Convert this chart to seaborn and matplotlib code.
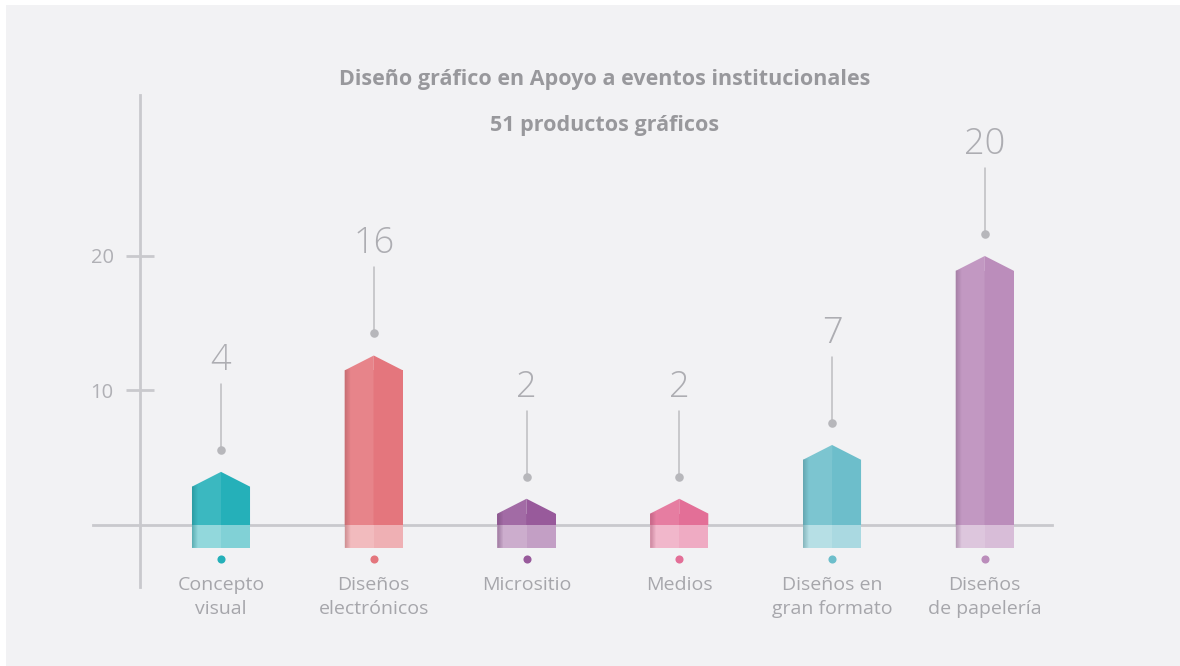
import numpy as np
import pandas as pd
import matplotlib
matplotlib.use("Agg")
import matplotlib.pyplot as plt
import matplotlib.colors as mcolors
import seaborn as sns

# chart data
categories = ["Concepto\nvisual", "Diseños\nelectrónicos", "Micrositio", "Medios",
              "Diseños en\ngran formato", "Diseños\nde papelería"]
counts = [4, 16, 2, 2, 7, 20]
bar_tops = [3.95, 12.6, 1.95, 1.95, 5.95, 20.0]   # peak heights as drawn in the picture
colors = ["#25b0b9", "#e4767d", "#985a9b", "#e36f97", "#6dbecb", "#bb8dbb"]
yticks = [10, 20]

title = "Diseño gráfico en Apoyo a eventos institucionales"
subtitle = "51 productos gráficos"

sns.set_theme(style="white")
plt.rcParams["font.family"] = ["Open Sans", "DejaVu Sans"]

BG = "#f2f2f4"
AXIS = "#c9c9cd"
TEXT = "#a6a6ab"

ROOF = 1.1      # drop from peak to shoulder
BASE = -1.7     # bars hang below the baseline
WIDTH = 0.38


def tint(c, f):
    r, g, b = mcolors.to_rgb(c)
    return (r + (1 - r) * f, g + (1 - g) * f, b + (1 - b) * f)


def shade(c, f):
    r, g, b = mcolors.to_rgb(c)
    return (r * (1 - f), g * (1 - f), b * (1 - f))


fig = plt.figure(figsize=(11.8, 6.66), dpi=100)
fig.patch.set_facecolor("white")
bg = plt.Rectangle((6 / 1180, 0), 1, 1 - 5 / 666, transform=fig.transFigure,
                   facecolor=BG, edgecolor="none", zorder=-10)
fig.patches.append(bg)

ax = fig.add_axes([93 / 1180, 1 - 587 / 666, (1052 - 93) / 1180, (587 - 95) / 666])
ax.set_facecolor("none")

df = pd.DataFrame({"cat": categories, "count": counts, "top": bar_tops})
df["body"] = df["top"] - ROOF
df["base"] = BASE

# main bodies (from zero to shoulder) and the lighter part under the baseline
sns.barplot(data=df, x="cat", y="body", hue="cat", palette=colors, width=WIDTH,
            legend=False, ax=ax, zorder=3, saturation=1, linewidth=0)
sns.barplot(data=df, x="cat", y="base", hue="cat", palette=[tint(c, 0.42) for c in colors],
            width=WIDTH, legend=False, ax=ax, zorder=3, saturation=1, linewidth=0)

half = WIDTH / 2
for i, (top, c) in enumerate(zip(bar_tops, colors)):
    sh = top - ROOF
    # two halves of the house shape, left one a bit lighter
    ax.fill([i - half, i, i, i - half], [sh, top, 0, 0], color=tint(c, 0.1), zorder=4, lw=0)
    ax.fill([i, i + half, i + half, i], [top, sh, 0, 0], color=c, zorder=4, lw=0)
    ax.fill([i - half, i, i, i - half], [0, 0, BASE, BASE], color=tint(c, 0.5), zorder=4, lw=0)
    ax.fill([i, i + half, i + half, i], [0, 0, BASE, BASE], color=tint(c, 0.42), zorder=4, lw=0)
    # darker left edge
    for k in range(6):
        x0 = i - half + k * 0.006
        ax.fill([x0, x0 + 0.006, x0 + 0.006, x0], [sh, sh + 0.035 * (k + 1), BASE, BASE],
                color=shade(c, 0.3), alpha=0.45 * (1 - k / 6), zorder=5, lw=0)
    # stem with dot and value label
    dot = top + 1.65
    ax.plot([i, i], [dot, dot + 4.9], color="#bdbdc1", lw=1.1, zorder=3)
    ax.scatter([i], [dot], s=38, color="#b7b7bb", zorder=4, lw=0)
    ax.text(i, dot + 4.9 + 1.05, str(counts[i]), ha="center", va="baseline",
            fontsize=26, color="#adadb2", fontweight="light")
    # colored dot and category name
    ax.scatter([i], [BASE - 0.83], s=34, color=c, zorder=4, lw=0)
    ax.text(i, -3.82, categories[i], ha="center", va="top", fontsize=14,
            color=TEXT, linespacing=1.42)

ax.set_xlim(-0.838, 5.44)
ax.set_ylim(-4.61, 31.97)

for s in ["top", "right"]:
    ax.spines[s].set_visible(False)
ax.spines["left"].set_position(("data", -0.53))
ax.spines["bottom"].set_position(("data", 0))
for s in ["left", "bottom"]:
    ax.spines[s].set_color(AXIS)
    ax.spines[s].set_linewidth(2)
    ax.spines[s].set_zorder(2)

ax.set_xticks([])
ax.set_yticks(yticks)
ax.set_yticklabels([str(t) for t in yticks])
ax.tick_params(axis="y", direction="inout", length=20, width=2, color=AXIS,
               labelsize=14.5, labelcolor="#b0b0b5", pad=9, left=True)
ax.set_xlabel("")
ax.set_ylabel("")

fig.text(605 / 1180, 1 - 79 / 666, title, ha="center", va="center", fontsize=15.5,
         fontweight="bold", color="#98989c")
fig.text(605 / 1180, 1 - 126 / 666, subtitle, ha="center", va="center", fontsize=15.5,
         fontweight="bold", color="#98989c")

fig.savefig("out.png", dpi=100, facecolor=fig.get_facecolor())
